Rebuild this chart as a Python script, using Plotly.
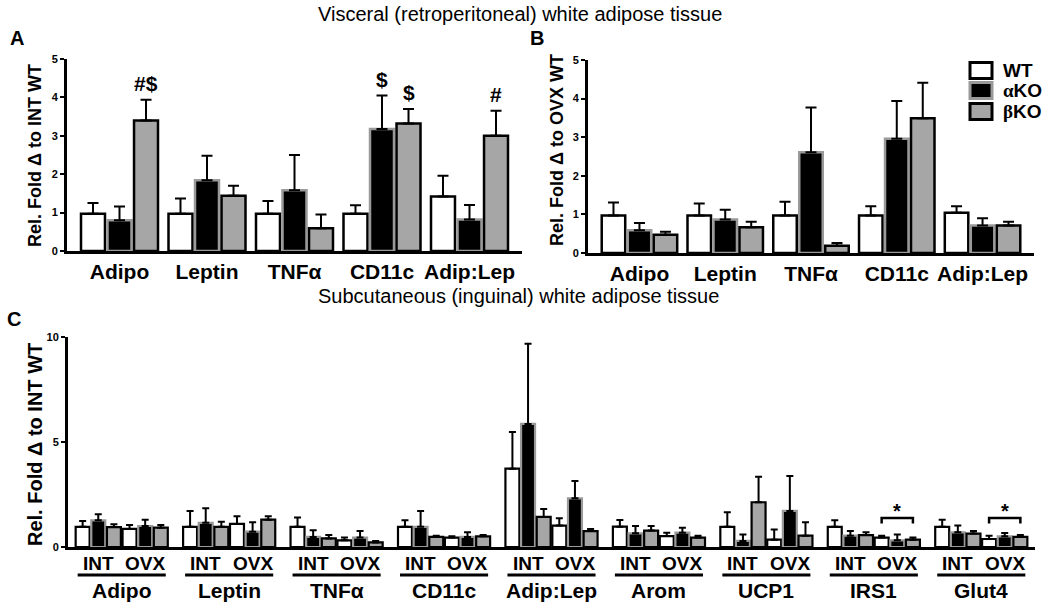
import plotly.graph_objects as go

# ---------------- data ----------------
genes_AB = ["Adipo", "Leptin", "TNFα", "CD11c", "Adip:Lep"]

A_wt = [0.97, 0.97, 0.97, 0.97, 1.42]
A_wt_sem = [0.28, 0.40, 0.33, 0.22, 0.54]
A_ako = [0.80, 1.84, 1.58, 3.18, 0.82]
A_ako_sem = [0.36, 0.64, 0.92, 0.87, 0.38]
A_bko = [3.40, 1.44, 0.59, 3.32, 3.00]
A_bko_sem = [0.54, 0.26, 0.36, 0.38, 0.65]

B_wt = [0.97, 0.97, 0.97, 0.97, 1.04]
B_wt_sem = [0.34, 0.31, 0.36, 0.24, 0.17]
B_ako = [0.59, 0.87, 2.61, 2.96, 0.71]
B_ako_sem = [0.19, 0.25, 1.16, 0.98, 0.19]
B_bko = [0.47, 0.67, 0.19, 3.49, 0.71]
B_bko_sem = [0.08, 0.14, 0.07, 0.92, 0.10]

genes_C = ["Adipo", "Leptin", "TNFα", "CD11c", "Adip:Lep", "Arom", "UCP1", "IRS1", "Glut4"]
C_int_wt = [0.96, 0.96, 0.96, 0.96, 3.73, 0.97, 0.96, 0.96, 0.96]
C_int_wt_sem = [0.28, 0.76, 0.44, 0.31, 1.75, 0.32, 0.70, 0.31, 0.34]
C_int_ako = [1.27, 1.15, 0.48, 0.96, 5.86, 0.65, 0.29, 0.54, 0.70]
C_int_ako_sem = [0.29, 0.70, 0.32, 0.76, 3.82, 0.35, 0.31, 0.22, 0.32]
C_int_bko = [0.95, 0.96, 0.41, 0.48, 1.43, 0.78, 2.13, 0.57, 0.64]
C_int_bko_sem = [0.13, 0.24, 0.16, 0.06, 0.38, 0.22, 1.21, 0.13, 0.12]
C_ovx_wt = [0.86, 1.10, 0.32, 0.45, 1.02, 0.52, 0.35, 0.45, 0.38]
C_ovx_wt_sem = [0.19, 0.36, 0.13, 0.06, 0.35, 0.16, 0.48, 0.09, 0.16]
C_ovx_ako = [1.00, 0.73, 0.45, 0.48, 2.32, 0.68, 1.72, 0.32, 0.51]
C_ovx_ako_sem = [0.30, 0.45, 0.31, 0.22, 0.82, 0.24, 1.66, 0.28, 0.16]
C_ovx_bko = [0.92, 1.30, 0.22, 0.51, 0.76, 0.45, 0.54, 0.35, 0.48]
C_ovx_bko_sem = [0.13, 0.16, 0.07, 0.06, 0.10, 0.09, 0.64, 0.10, 0.09]

sig_A = [("Adipo", 2, "#$"), ("CD11c", 1, "$"), ("CD11c", 2, "$"), ("Adip:Lep", 2, "#")]
star_C = ["IRS1", "Glut4"]
sub_labels = ["INT", "OVX"]
legend_labels = ["WT", "<span style='font-family:Liberation Serif'>α</span>KO",
                 "<span style='font-family:Liberation Serif'>β</span>KO"]

# ---------------- styles ----------------
FONT = "Liberation Sans"
W, H = 1050, 611


def fx(p):
    return p / W


def fy(p):
    return 1 - p / H


WT_FILL, AKO_FILL, BKO_FILL = "#ffffff", "#000000", "#a6a6a6"
WT_LINE, AKO_LINE, BKO_LINE = "#000000", "#9a9a9a", "#000000"
styles = [(WT_FILL, WT_LINE), (AKO_FILL, AKO_LINE), (BKO_FILL, BKO_LINE)]

fig = go.Figure()


def add_bar(x, vals, sems, k, n, slot, width, fill, line, xa, ya, cap, lw):
    offset = (k - n / 2) * slot + (slot - width) / 2
    fig.add_trace(go.Bar(
        x=x, y=vals, xaxis=xa, yaxis=ya, width=width, offset=offset,
        marker=dict(color=fill, line=dict(color=line, width=lw)),
        error_y=dict(type="data", symmetric=False, array=sems,
                     arrayminus=[0] * len(sems), color="black",
                     thickness=2, width=cap),
        showlegend=False, hoverinfo="skip"))


# Panel A
for k, (v, s) in enumerate([(A_wt, A_wt_sem), (A_ako, A_ako_sem), (A_bko, A_bko_sem)]):
    add_bar(genes_AB, v, s, k, 3, 0.303, 0.274, styles[k][0], styles[k][1], "x", "y", 5.5, 2.5)
# Panel B
for k, (v, s) in enumerate([(B_wt, B_wt_sem), (B_ako, B_ako_sem), (B_bko, B_bko_sem)]):
    add_bar(genes_AB, v, s, k, 3, 0.303, 0.274, styles[k][0], styles[k][1], "x2", "y2", 5.5, 2.5)
# Panel C
C_series = [(C_int_wt, C_int_wt_sem), (C_int_ako, C_int_ako_sem), (C_int_bko, C_int_bko_sem),
            (C_ovx_wt, C_ovx_wt_sem), (C_ovx_ako, C_ovx_ako_sem), (C_ovx_bko, C_ovx_bko_sem)]
for k, (v, s) in enumerate(C_series):
    f, l = styles[k % 3]
    add_bar(genes_C, v, s, k, 6, 0.1455, 0.13, f, l, "x3", "y3", 3.5, 2.2)

axis_common = dict(showline=True, linecolor="black", linewidth=3, mirror=False,
                   showgrid=False, zeroline=False, automargin=False)
tickfont_y = dict(family=FONT, size=11, color="black", weight="bold")
tickfont_x = dict(family=FONT, size=21, color="black", weight="bold")

fig.update_layout(
    template="none",
    width=W, height=H, margin=dict(l=0, r=0, t=0, b=0, pad=0), autosize=False,
    paper_bgcolor="white", plot_bgcolor="white", barmode="overlay",
    font=dict(family=FONT, color="black"),
    xaxis=dict(domain=[fx(67), fx(522)], anchor="y", type="category", range=[-0.6, 4.6],
               ticks="", tickfont=tickfont_x, **axis_common),
    yaxis=dict(domain=[fy(251), fy(59)], anchor="x", range=[0, 5], tickvals=[0, 1, 2, 3, 4, 5],
               ticks="outside", ticklen=4, tickwidth=2, tickcolor="black",
               tickfont=tickfont_y, **axis_common),
    xaxis2=dict(domain=[fx(588), fx(1034)], anchor="y2", type="category", range=[-0.6, 4.6],
                ticks="", tickfont=tickfont_x, **axis_common),
    yaxis2=dict(domain=[fy(253), fy(60)], anchor="x2", range=[0, 5], tickvals=[0, 1, 2, 3, 4, 5],
                ticks="outside", ticklen=4, tickwidth=2, tickcolor="black",
                tickfont=tickfont_y, **axis_common),
    xaxis3=dict(domain=[fx(68), fx(1035)], anchor="y3", type="category", range=[-0.5, 8.5],
                ticks="", showticklabels=False, **axis_common),
    yaxis3=dict(domain=[fy(547), fy(337)], anchor="x3", range=[0, 10], tickvals=[0, 5, 10],
                ticks="outside", ticklen=4, tickwidth=2, tickcolor="black",
                tickfont=tickfont_y, **axis_common),
)

ann = []
shapes = []


def txt(x, y, text, size, bold=True, xref="paper", yref="paper", angle=0, family=FONT,
        xanchor="center", yanchor="middle"):
    ann.append(dict(x=x, y=y, xref=xref, yref=yref, text=text, showarrow=False,
                    textangle=angle, xanchor=xanchor, yanchor=yanchor,
                    font=dict(family=family, size=size, color="black",
                              weight="bold" if bold else "normal")))


# titles
txt(fx(520), fy(14), "Visceral (retroperitoneal) white adipose tissue", 20, bold=False)
txt(fx(518), fy(296), "Subcutaneous (inguinal) white adipose tissue", 20, bold=False)
# panel letters
txt(fx(17), fy(38), "A", 20)
txt(fx(537), fy(38), "B", 20)
txt(fx(14), fy(319), "C", 20)
# y titles
txt(fx(35), fy(156), "Rel. Fold Δ to INT WT", 18, angle=-90)
txt(fx(557), fy(150), "Rel. Fold Δ to OVX WT", 18, angle=-90)
txt(fx(35), fy(445), "Rel. Fold Δ to INT WT", 20, angle=-90)

# significance marks panel A
A_vals = [A_wt, A_ako, A_bko]
A_sems = [A_wt_sem, A_ako_sem, A_bko_sem]
for g, k, mark in sig_A:
    i = genes_AB.index(g)
    top = A_vals[k][i] + A_sems[k][i]
    txt(i + (k - 1) * 0.303, top + 0.42, mark, 21, xref="x", yref="y")

# panel C sub labels, underlines, group names
for i, g in enumerate(genes_C):
    txt(i - 0.218, fy(563), sub_labels[0], 19, xref="x3")
    txt(i + 0.218, fy(563), sub_labels[1], 19, xref="x3")
    shapes.append(dict(type="line", xref="x3", yref="paper", x0=i - 0.41, x1=i + 0.41,
                       y0=fy(575), y1=fy(575), line=dict(color="black", width=3)))
    txt(i, fy(590), g, 21, xref="x3")

# brackets + stars in panel C
for g in star_C:
    i = genes_C.index(g)
    xl, xr = i + 0.5 * 0.1455, i + 2.5 * 0.1455
    shapes.append(dict(type="path", xref="x3", yref="y3",
                       path=f"M {xl},1.12 L {xl},1.38 L {xr},1.38 L {xr},1.12",
                       line=dict(color="black", width=2.5)))
    txt(i + 1.5 * 0.1455, 1.72, "*", 20, xref="x3", yref="y3")

# legend (panel B)
legend_fills = [(WT_FILL, "#000000"), (AKO_FILL, "#9a9a9a"), (BKO_FILL, "#000000")]
legend_y = [70.5, 90.5, 111.5]
for (f, l), yc, lab in zip(legend_fills, legend_y, legend_labels):
    shapes.append(dict(type="rect", xref="paper", yref="paper",
                       x0=fx(970), x1=fx(992), y0=fy(yc + 8), y1=fy(yc - 8),
                       fillcolor=f, line=dict(color=l, width=3)))
    txt(fx(1001), fy(yc), lab, 19, xanchor="left")

fig.update_layout(annotations=ann, shapes=shapes)
fig.write_html("out.html", config={"displayModeBar": False},
               post_script="document.body.style.margin='0px';document.body.style.overflow='hidden';")
